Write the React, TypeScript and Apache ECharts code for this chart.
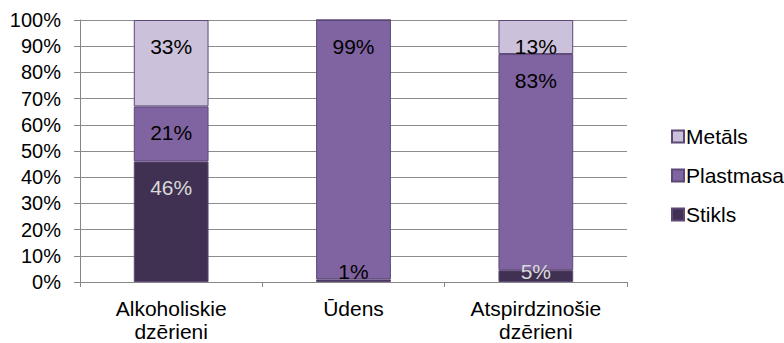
import React, { useEffect, useRef } from "react";
import * as echarts from "echarts";

const categories = ["Alkoholiskie\ndzērieni", "Ūdens", "Atspirdzinošie\ndzērieni"];
const stikls = [46, 1, 4.5];
const plastmasa = [21, 99, 82.5];
const metals = [33, 0, 13];
const seriesNames = ["Stikls", "Plastmasa", "Metāls"];
const legendOrder = ["Metāls", "Plastmasa", "Stikls"];

const FONT = "Arial";
const FS = 21;
const TICK_FS = 20;

export default function App() {
  const ref = useRef<HTMLDivElement>(null);
  useEffect(() => {
    if (!ref.current) return;
    const chart = echarts.init(ref.current, undefined, { renderer: "svg" });
    const fmt = (p: any) => (p.value > 0 ? Math.round(p.value) + "%" : "");
    const mkData = (vals: number[], small: (v: number) => boolean, color: string) =>
      vals.map((v) => {
        if (small(v)) {
          return {
            value: v,
            label: { position: "insideBottom", distance: 0, color: v <= 2 ? "#000" : color },
          };
        }
        return { value: v };
      });
    const baseLabel = (color: string) => ({
      show: true,
      position: "insideTop",
      distance: 16,
      color,
      fontSize: FS,
      fontFamily: FONT,
      formatter: fmt,
    });
    const border = { borderColor: "#5c4776", borderWidth: 1 };
    chart.setOption({
      animation: false,
      textStyle: { fontFamily: FONT },
      grid: { left: 80, right: 157, top: 20, bottom: 59, containLabel: false },
      legend: {
        orient: "vertical",
        left: 666,
        top: 121,
        data: legendOrder,
        itemWidth: 12,
        itemHeight: 12,
        itemGap: 18,
        icon: "rect",
        textStyle: { fontSize: FS, fontFamily: FONT, color: "#000", padding: [0, 0, 0, -3] },
      },
      xAxis: {
        type: "category",
        data: categories,
        axisLine: { lineStyle: { color: "#868686", width: 1 } },
        axisTick: { show: true, length: 5, lineStyle: { color: "#868686" } },
        axisLabel: {
          color: "#000",
          fontSize: FS,
          fontFamily: FONT,
          lineHeight: 23,
          margin: 15,
          interval: 0,
        },
      },
      yAxis: {
        type: "value",
        min: 0,
        max: 100,
        interval: 10,
        axisLine: { show: true, lineStyle: { color: "#868686", width: 1 } },
        axisTick: { show: true, length: 6, lineStyle: { color: "#868686" } },
        splitLine: { lineStyle: { color: "#8c8c8c", width: 1 } },
        axisLabel: {
          formatter: "{value}%",
          color: "#000",
          fontSize: TICK_FS,
          fontFamily: FONT,
          margin: 19,
        },
      },
      series: [
        {
          name: seriesNames[0],
          type: "bar",
          stack: "total",
          barCategoryGap: "59%",
          data: mkData(stikls, (v) => v < 10, "#d9d9d9"),
          itemStyle: { color: "#403152", ...border },
          label: baseLabel("#d9d9d9"),
        },
        {
          name: seriesNames[1],
          type: "bar",
          stack: "total",
          data: plastmasa,
          itemStyle: { color: "#8064a2", ...border },
          label: baseLabel("#000"),
        },
        {
          name: seriesNames[2],
          type: "bar",
          stack: "total",
          data: metals,
          itemStyle: { color: "#ccc1da", ...border },
          label: baseLabel("#000"),
        },
      ],
    });
    return () => chart.dispose();
  }, []);
  return <div ref={ref} style={{ width: 784, height: 343, position: "absolute", left: 0, top: 0 }} />;
}
